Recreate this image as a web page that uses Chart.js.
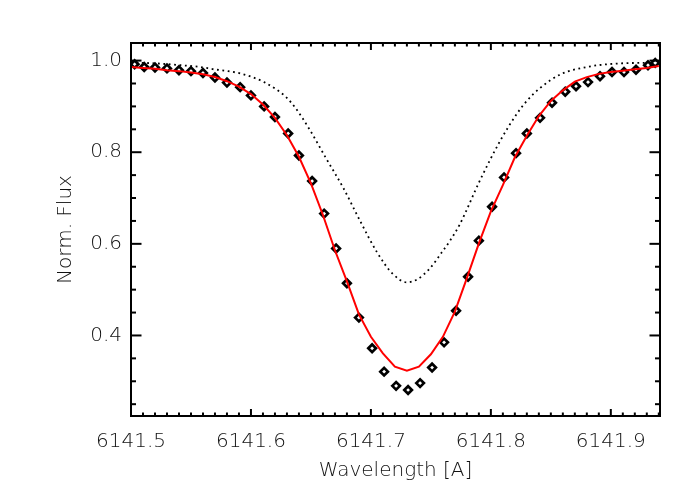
<!DOCTYPE html>
<html>
<head>
<meta charset="utf-8">
<script src="https://cdn.jsdelivr.net/npm/chart.js@4.4.1/dist/chart.umd.min.js"></script>
<style>
  html, body { margin: 0; padding: 0; background: #fff; }
  #wrap { width: 700px; height: 500px; }
</style>
</head>
<body>
<div id="wrap"><canvas id="c" width="700" height="500"></canvas></div>
<script>
// Observed spectrum (diamonds)
const obsWave = [6141.503, 6141.511, 6141.520, 6141.530, 6141.540, 6141.550, 6141.560, 6141.570, 6141.580, 6141.591,
  6141.600, 6141.611, 6141.620, 6141.631, 6141.640, 6141.651, 6141.661, 6141.671, 6141.680, 6141.690,
  6141.701, 6141.711, 6141.721, 6141.731, 6141.741, 6141.751, 6141.761, 6141.771, 6141.781, 6141.790,
  6141.801, 6141.811, 6141.821, 6141.830, 6141.841, 6141.851, 6141.862, 6141.871, 6141.881, 6141.891,
  6141.901, 6141.911, 6141.921, 6141.931, 6141.937];
const obsFlux = [0.992, 0.986, 0.985, 0.983, 0.979, 0.977, 0.973, 0.963, 0.952, 0.942,
  0.924, 0.900, 0.877, 0.841, 0.793, 0.737, 0.666, 0.590, 0.514, 0.439,
  0.372, 0.321, 0.290, 0.281, 0.296, 0.330, 0.385, 0.454, 0.528, 0.607,
  0.681, 0.745, 0.798, 0.841, 0.875, 0.908, 0.932, 0.944, 0.953, 0.966,
  0.975, 0.975, 0.980, 0.990, 0.995];

// Fitted model (red line)
const fitWave = [6141.50, 6141.51, 6141.52, 6141.53, 6141.54, 6141.55, 6141.56, 6141.57, 6141.58, 6141.59,
  6141.60, 6141.61, 6141.62, 6141.63, 6141.64, 6141.65, 6141.66, 6141.67, 6141.68, 6141.69,
  6141.70, 6141.71, 6141.72, 6141.73, 6141.74, 6141.75, 6141.76, 6141.77, 6141.78, 6141.79,
  6141.80, 6141.81, 6141.82, 6141.83, 6141.84, 6141.85, 6141.86, 6141.87, 6141.88, 6141.89,
  6141.90, 6141.91, 6141.92, 6141.93, 6141.94];
const fitFlux = [0.986, 0.984, 0.982, 0.979, 0.977, 0.974, 0.970, 0.964, 0.955, 0.943,
  0.927, 0.904, 0.875, 0.837, 0.790, 0.732, 0.663, 0.586, 0.518, 0.446,
  0.397, 0.361, 0.332, 0.323, 0.332, 0.359, 0.397, 0.452, 0.525, 0.601,
  0.671, 0.728, 0.789, 0.836, 0.879, 0.912, 0.935, 0.954, 0.964, 0.971,
  0.975, 0.978, 0.981, 0.984, 0.988];

// Second profile (dotted line)
const dotWave = [6141.500, 6141.520, 6141.546, 6141.558, 6141.569, 6141.581, 6141.591, 6141.601, 6141.611, 6141.620,
  6141.629, 6141.637, 6141.649, 6141.663, 6141.677, 6141.691, 6141.705, 6141.718,
  6141.730, 6141.739, 6141.749, 6141.759, 6141.766, 6141.774, 6141.791, 6141.808, 6141.822, 6141.830,
  6141.841, 6141.858, 6141.880, 6141.902, 6141.935, 6141.941];
const dotFlux = [0.996, 0.994, 0.989, 0.986, 0.981, 0.977, 0.972, 0.964, 0.953, 0.939,
  0.921, 0.897, 0.849, 0.785, 0.722, 0.650, 0.582, 0.535,
  0.516, 0.523, 0.546, 0.581, 0.607, 0.642, 0.739, 0.826, 0.885, 0.912,
  0.940, 0.970, 0.986, 0.993, 0.995, 0.995];

// Axis tick labels
const xTickValues = [6141.5, 6141.6, 6141.7, 6141.8, 6141.9];
const yTickValues = [0.4, 0.6, 0.8, 1.0];
const xRange = [6141.5, 6141.941];
const yRange = [0.2242, 1.0384];

const pts = (xs, ys) => xs.map((v, i) => ({ x: v, y: ys[i] }));

const FONT = "'DejaVu Sans', sans-serif";
const TXT = '#111';

const frameTicks = {
  id: 'frameTicks',
  afterDatasetsDraw(chart) {
    const { ctx, chartArea: a, scales: { x, y } } = chart;
    ctx.save();
    ctx.strokeStyle = '#000';
    ctx.lineWidth = 2;
    ctx.lineCap = 'butt';
    ctx.strokeRect(a.left, a.top, a.right - a.left, a.bottom - a.top);
    const seg = (x1, y1, x2, y2) => { ctx.beginPath(); ctx.moveTo(x1, y1); ctx.lineTo(x2, y2); ctx.stroke(); };
    // x ticks every 0.01, major every 0.1
    for (let k = 0; k <= 44; k++) {
      const v = 6141.5 + k * 0.01;
      if (v > x.max + 1e-9) break;
      const px = x.getPixelForValue(v);
      const len = (k % 10 === 0) ? 7 : 3.5;
      seg(px, a.bottom, px, a.bottom - len);
      seg(px, a.top, px, a.top + len);
    }
    // y ticks every 0.05, major every 0.2
    for (let k = 5; k <= 20; k++) {
      const v = k * 0.05;
      if (v < y.min || v > y.max) continue;
      const py = y.getPixelForValue(v);
      const len = (k % 4 === 0) ? 10.5 : 5;
      seg(a.left, py, a.left + len, py);
      seg(a.right, py, a.right - len, py);
    }
    ctx.restore();
  }
};

new Chart(document.getElementById('c'), {
  type: 'scatter',
  data: {
    datasets: [
      {
        label: 'fit',
        data: pts(fitWave, fitFlux),
        showLine: true,
        borderColor: '#ff0000',
        borderWidth: 2,
        pointRadius: 0,
        tension: 0,
        order: 0
      },
      {
        label: 'observed',
        data: pts(obsWave, obsFlux),
        showLine: false,
        pointStyle: 'rectRot',
        pointRadius: 3.8,
        pointBorderWidth: 2.7,
        pointBorderColor: '#000',
        pointBackgroundColor: '#fff',
        order: 1
      },
      {
        label: 'profile',
        data: pts(dotWave, dotFlux),
        showLine: true,
        borderColor: '#000',
        borderWidth: 1.8,
        borderDash: [1.8, 3.6],
        pointRadius: 0,
        cubicInterpolationMode: 'monotone',
        order: 2
      }
    ]
  },
  options: {
    responsive: false,
    animation: false,
    layout: { padding: { left: 0, top: 43, right: 40, bottom: 0 } },
    plugins: { legend: { display: false }, tooltip: { enabled: false } },
    scales: {
      x: {
        type: 'linear',
        min: xRange[0],
        max: xRange[1],
        grid: { display: false, drawTicks: false },
        border: { display: false },
        afterBuildTicks: s => { s.ticks = xTickValues.map(v => ({ value: v })); },
        afterFit: s => { s.height = 84; },
        ticks: {
          padding: 14,
          maxRotation: 0,
          color: TXT,
          font: { family: FONT, size: 20, weight: 200 },
          callback: v => v.toFixed(1)
        },
        title: {
          display: true,
          text: 'Wavelength [A]',
          color: TXT,
          font: { family: FONT, size: 20, weight: 200 },
          padding: { top: 0, bottom: 17 }
        }
      },
      y: {
        type: 'linear',
        min: yRange[0],
        max: yRange[1],
        grid: { display: false, drawTicks: false },
        border: { display: false },
        afterBuildTicks: s => { s.ticks = yTickValues.map(v => ({ value: v })); },
        afterFit: s => { s.width = 131; },
        ticks: {
          padding: 9,
          color: TXT,
          font: { family: FONT, size: 20, weight: 200 },
          callback: v => v.toFixed(1)
        },
        title: {
          display: true,
          text: 'Norm. Flux',
          color: TXT,
          font: { family: FONT, size: 20, weight: 200 },
          padding: { top: 54, bottom: 0 }
        }
      }
    }
  },
  plugins: [frameTicks]
});
</script>
</body>
</html>
